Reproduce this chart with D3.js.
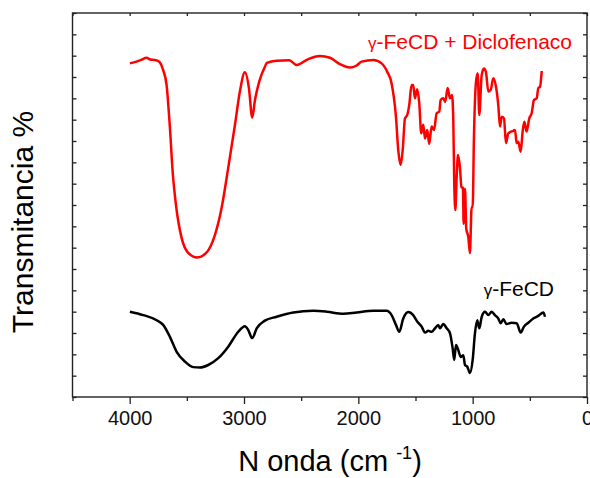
<!DOCTYPE html>
<meta charset="utf-8">
<script src="https://d3js.org/d3.v7.min.js"></script>
<style>
  body { margin: 0; background: #fff; }
  text { font-family: "Liberation Sans", Arial, sans-serif; }
</style>
<div id="chart"></div>
<script>

// wavenumber (cm-1) and transmittance (arbitrary)
var redWn = [3998, 3940, 3900, 3852, 3820, 3780, 3741, 3707, 3677, 3648, 3624, 3595, 3546, 3488, 3409, 3333, 3254, 3196, 3138, 3079, 3036, 2992, 2957, 2928, 2904, 2867, 2817, 2800, 2715, 2604, 2540, 2438, 2336, 2248, 2161, 2073, 2015, 1971, 1869, 1796, 1747, 1709, 1671, 1651, 1630, 1612, 1592, 1572, 1555, 1534, 1520, 1505, 1485, 1467, 1450, 1432, 1417, 1397, 1380, 1359, 1338, 1315, 1292, 1280, 1257, 1240, 1219, 1198, 1181, 1170, 1161, 1152, 1140, 1128, 1111, 1098, 1085, 1079, 1067, 1056, 1038, 1024, 1009, 1000, 989, 971, 956, 942, 921, 901, 884, 863, 842, 820, 796, 776, 761, 746, 726, 709, 688, 645, 630, 615, 601, 580, 563, 548, 528, 505, 484, 464, 440, 426, 411, 396];
var redT = [78.2, 78.6, 79.0, 79.5, 79.1, 79.0, 78.6, 76.6, 73.1, 63.1, 52.8, 45.0, 37.3, 33.8, 32.7, 33.7, 38.0, 44.3, 53.7, 63.8, 71.6, 76.1, 72.4, 65.5, 69.6, 73.9, 77.4, 78.3, 78.8, 78.9, 77.8, 79.2, 79.9, 79.5, 78.0, 77.2, 77.7, 78.6, 79.0, 78.2, 76.2, 73.5, 65.7, 57.9, 54.4, 57.9, 65.3, 66.1, 68.4, 73.1, 73.1, 70.0, 72.1, 68.8, 61.8, 63.8, 60.6, 62.6, 59.3, 63.4, 62.6, 66.5, 66.9, 69.6, 70.0, 69.2, 72.4, 70.0, 70.8, 65.7, 50.1, 43.8, 51.6, 56.7, 53.7, 49.2, 49.0, 40.6, 48.8, 39.4, 37.5, 33.7, 44.5, 44.5, 60.7, 73.8, 75.9, 66.1, 75.5, 77.0, 76.2, 71.6, 72.0, 74.7, 72.7, 68.4, 63.4, 65.7, 65.3, 59.5, 61.8, 62.4, 62.6, 59.5, 59.8, 57.5, 62.2, 64.5, 62.2, 65.3, 66.5, 69.6, 70.0, 72.4, 72.7, 76.4];

var blackWn = [3998, 3881, 3764, 3707, 3648, 3589, 3517, 3444, 3385, 3313, 3225, 3138, 3050, 2992, 2963, 2928, 2889, 2817, 2715, 2569, 2394, 2277, 2132, 2015, 1869, 1752, 1709, 1671, 1642, 1607, 1563, 1520, 1485, 1446, 1417, 1388, 1359, 1330, 1301, 1286, 1257, 1227, 1198, 1175, 1161, 1146, 1126, 1105, 1082, 1067, 1047, 1024, 1000, 980, 960, 942, 921, 892, 863, 834, 805, 776, 755, 732, 703, 659, 615, 580, 551, 513, 470, 426, 382, 367];
var blackT = [20.0, 19.2, 18.0, 16.9, 14.1, 10.6, 8.3, 7.0, 6.9, 7.5, 9.1, 11.8, 15.3, 16.6, 15.7, 13.8, 16.1, 17.9, 18.8, 19.8, 20.2, 20.0, 19.5, 19.8, 20.2, 20.2, 19.2, 16.9, 15.3, 18.4, 19.9, 19.2, 17.7, 16.5, 15.1, 15.5, 15.3, 16.1, 16.9, 16.1, 17.1, 16.1, 14.9, 11.4, 8.7, 12.2, 11.0, 9.4, 9.8, 7.5, 7.1, 5.6, 8.7, 14.9, 18.0, 16.1, 18.8, 20.0, 19.2, 20.0, 19.2, 18.4, 17.3, 18.2, 17.1, 17.4, 17.3, 15.1, 16.5, 17.4, 18.4, 19.0, 19.8, 18.8];

var xMajor = [4000, 3000, 2000, 1000, 0];
var xMinor = [4500, 3500, 2500, 1500, 500];
var yTicks = d3.range(0, 91, 5);

var width = 590, height = 478;
// plot frame edges (don't name these top/left: window.top is read-only)
var pLeft = 72.5, pRight = 587, pTop = 13, pBottom = 397;

var svg = d3.select("#chart").append("svg")
    .attr("width", width)
    .attr("height", height);

var x = d3.scaleLinear().domain([4500, 0]).range([pLeft, pRight]);
var y = d3.scaleLinear().domain([0, 90]).range([pBottom, pTop]);

function styleTicks(g) {
  g.select(".domain").remove();
  g.selectAll("line").attr("stroke", "#222").attr("stroke-width", 1.3);
}

// bottom axis: labelled major ticks + short minor ones, outward
svg.append("g")
    .attr("transform", "translate(0," + pBottom + ")")
    .call(d3.axisBottom(x).tickValues(xMajor).tickSize(7).tickPadding(7).tickFormat(d3.format("d")))
    .call(styleTicks)
    .call(function(g){
      g.selectAll("text").attr("font-size", 20).attr("fill", "#111")
        .style("font-family", "'Liberation Sans', Arial, sans-serif");
    });
svg.append("g")
    .attr("transform", "translate(0," + pBottom + ")")
    .call(d3.axisBottom(x).tickValues(xMinor).tickSize(4).tickFormat(""))
    .call(styleTicks);

// top axis, ticks pointing in
svg.append("g")
    .attr("transform", "translate(0," + pTop + ")")
    .call(d3.axisTop(x).tickValues(xMajor.concat(xMinor)).tickSize(-3).tickFormat(""))
    .call(styleTicks);

// left and right axes, no labels, ticks pointing in
svg.append("g")
    .attr("transform", "translate(" + pLeft + ",0)")
    .call(d3.axisLeft(y).tickValues(yTicks).tickSize(-4).tickFormat(""))
    .call(styleTicks);
svg.append("g")
    .attr("transform", "translate(" + pRight + ",0)")
    .call(d3.axisRight(y).tickValues(yTicks).tickSize(-4).tickFormat(""))
    .call(styleTicks);

// frame
svg.append("rect")
    .attr("x", pLeft).attr("y", pTop)
    .attr("width", pRight - pLeft).attr("height", pBottom - pTop)
    .attr("fill", "none").attr("stroke", "#222").attr("stroke-width", 1.4);

var line = d3.line()
    .x(function(d){ return x(d[0]); })
    .y(function(d){ return y(d[1]); })
    .curve(d3.curveMonotoneX);

svg.append("path")
    .datum(d3.zip(blackWn, blackT))
    .attr("d", line)
    .attr("fill", "none").attr("stroke", "#000").attr("stroke-width", 2.5)
    .attr("stroke-linejoin", "round");

svg.append("path")
    .datum(d3.zip(redWn, redT))
    .attr("d", line)
    .attr("fill", "none").attr("stroke", "#ff0000").attr("stroke-width", 2.5)
    .attr("stroke-linejoin", "round");

// series labels
var lab1 = svg.append("text")
    .attr("x", 572).attr("y", 49)
    .attr("text-anchor", "end")
    .attr("font-size", 21)
    .attr("fill", "#ff0000");
lab1.append("tspan").attr("font-size", 17).text("γ");
lab1.append("tspan").text("-FeCD + Diclofenaco");

var lab2 = svg.append("text")
    .attr("x", 554).attr("y", 296)
    .attr("text-anchor", "end")
    .attr("font-size", 21)
    .attr("fill", "#000");
lab2.append("tspan").attr("font-size", 17).text("γ");
lab2.append("tspan").text("-FeCD");

// axis titles
var xt = svg.append("text")
    .attr("x", 330).attr("y", 471)
    .attr("text-anchor", "middle")
    .attr("font-size", 29)
    .attr("fill", "#000");
xt.append("tspan").text("N onda (cm ");
xt.append("tspan").attr("font-size", 18).attr("dy", -12).text("-1");
xt.append("tspan").attr("dy", 12).text(")");

svg.append("text")
    .attr("transform", "translate(33,222) rotate(-90)")
    .attr("text-anchor", "middle")
    .attr("font-size", 30)
    .attr("fill", "#000")
    .text("Transmitancia %");

</script>
